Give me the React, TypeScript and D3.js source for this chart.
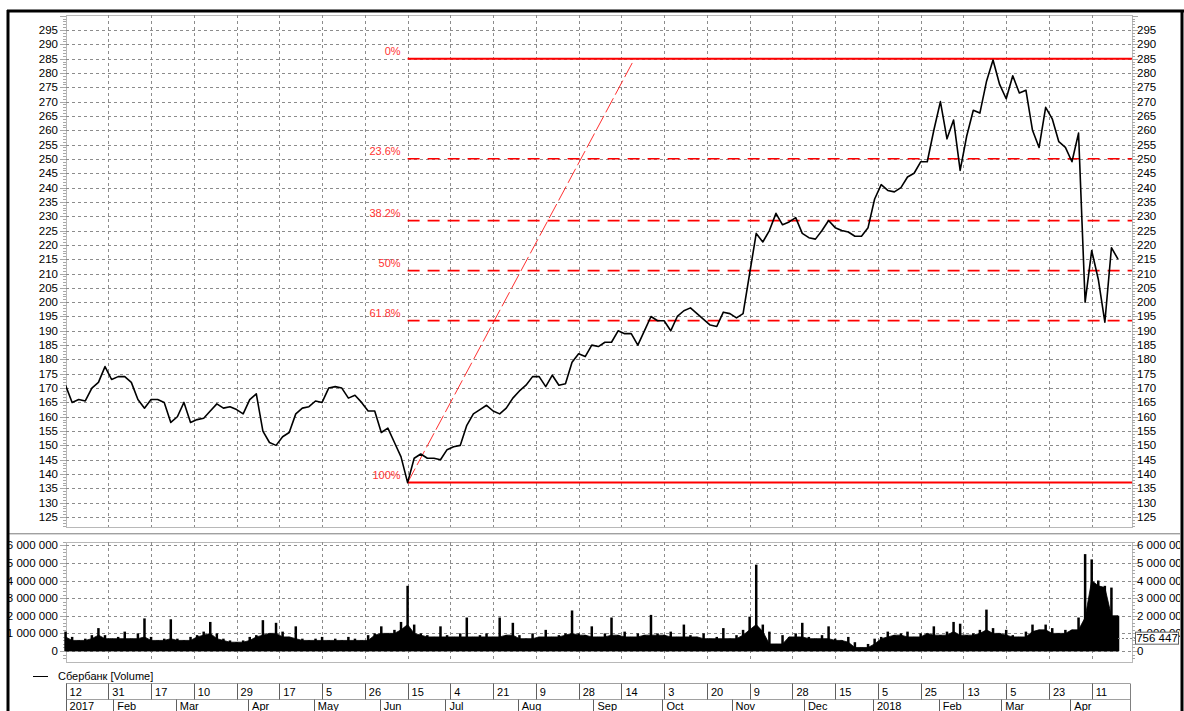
import React from 'react';
import * as d3 from 'd3';

// ---- data ----
const dayLabels = ['12','31','17','10','29','17','5','26','15','4','21','9','28','14','3','20','9','28','15','5','25','13','5','23','11'];
const monthLabels = ['2017','Feb','Mar','Apr','May','Jun','Jul','Aug','Sep','Oct','Nov','Dec','2018','Feb','Mar','Apr'];
const monthStarts = [0,15,34,56,76,96,116,138,161,182,203,225,246,266,285,306];
const TICK_EVERY = 13; // trading days between date ticks
const SAMPLE_STEP = 2; // trading days between samples

// close price, sampled every 2 trading days
const priceValues = [
  171,165,166,165.5,170,172,177.5,173,174,174,
  172,166,163,166,166,165,158,160,165,158,
  159,159.5,162,164.5,163,163.5,162.5,161,166,168,
  155,151,150,153,154.5,161,163,163.5,165.5,165,
  170,170.5,170,166.5,167.5,165,162,162,154.5,156,
  151,146,137,145.5,147,145.5,145.5,145,148.5,149.5,
  150,157,161,162.5,164,162,161,163,166.5,169,
  171,174,174,170.5,174.5,171,171.5,179,182,181,
  185,184.5,186,186,190,189,189,185,190,195,
  193.5,193.5,190,195,197,198,196,194,192,191.5,
  196.5,196,194.5,196,210,224,221,225,231,227,
  228,229.5,224,222.5,222,225,228.5,226,225,224.5,
  223,223,226,236,241,239,238.5,240,243.7,245,
  249,249,260,270,257,263.6,246,258,267,266,
  277,284.5,276,271,279,273,274,260,254,268,
  264,256,254,249,259,200,218,208,193,219,
  215
];

// volume in millions, sampled every 2 trading days
const volumeValues = [
  1.1,0.8,0.6,0.7,0.9,1.3,0.9,0.7,0.8,1.1,
  0.7,1.0,1.85,0.8,0.6,0.7,1.8,0.7,0.6,0.8,
  0.9,1.1,1.65,1.0,0.7,0.6,0.5,0.6,0.8,0.9,
  1.75,1.0,1.6,1.1,0.8,1.4,0.7,0.6,0.7,0.8,
  0.6,0.7,0.6,0.8,0.7,0.6,0.9,1.0,1.4,1.0,
  1.2,1.65,3.7,1.5,1.0,0.9,0.8,1.4,0.9,0.8,
  1.0,1.9,0.8,0.9,1.0,0.8,1.9,0.9,1.6,0.9,
  0.7,1.0,0.8,1.2,0.8,0.9,1.0,2.3,1.0,0.9,
  1.4,0.8,1.0,1.9,0.9,1.1,0.8,1.0,0.9,2.05,
  1.0,0.9,1.1,0.8,1.5,0.9,0.8,1.0,0.7,0.8,
  1.3,0.7,0.9,1.2,1.95,4.9,1.5,1.1,0.4,0.9,
  0.8,1.0,1.6,0.8,0.7,0.9,1.4,0.7,0.6,0.8,
  0.5,0.2,0.4,0.7,0.8,1.1,0.9,1.0,1.1,0.8,
  1.0,1.0,1.4,0.9,1.1,1.65,1.55,0.9,1.0,1.2,
  2.35,1.3,1.0,1.2,0.9,0.8,1.1,1.5,1.2,1.5,
  1.3,1.0,1.2,1.2,1.9,5.5,5.2,4.0,3.7,3.6,
  2.0
];
const lastVolume = 756447;

const fibLevels = [0, 23.6, 38.2, 50, 61.8, 100];
const fibHigh = 285;
const fibLow = 137;
const fibStartIndex = 104;
const fibDiagEndIndex = 173;
const legendLabel = 'Сбербанк [Volume]';

// ---- layout ----
const W = 1184, H = 711;
const PL = 66, PR = 1132;
const priceTop = 15, priceBottom = 527;
const volTop = 542, volBottom = 662;
const FONT = 'Liberation Sans, Arial, sans-serif';
const GRID = '#8c8c8c';

const x = d3.scaleLinear().domain([0, 312]).range([65.55, 1091.7]);
const yP = d3.scaleLinear().domain([125, 295]).range([517, 30]);
const yV = d3.scaleLinear().domain([0, 6e6]).range([651, 545.3]);

const fmtVol = (v: number) => d3.format(',')(v).replace(/,/g, ' ');

export default function App() {
  const tickIdx = dayLabels.map((_, k) => k * TICK_EVERY);
  const priceTicks = d3.range(125, 296, 5);
  const priceMinor = d3.range(122, 301, 1);
  const volTicks = d3.range(0, 6e6 + 1, 1e6);
  const volMinor = d3.range(-0.6e6, 6.6e6, 0.2e6);

  const line = d3.line<number>()
    .x((_, i) => x(i * SAMPLE_STEP))
    .y((d) => yP(d));

  // dense lower mass of the volume histogram: local floor of neighbouring samples
  const volFloor = volumeValues.map((v, i) =>
    Math.min(v, volumeValues[Math.max(0, i - 1)], volumeValues[Math.min(volumeValues.length - 1, i + 1)]));
  const volArea = d3.area<number>()
    .x((_, i) => x(i * SAMPLE_STEP))
    .y0(yV(0))
    .y1((d) => yV(d * 1e6));

  const fibY = (lvl: number) => yP(fibHigh - (fibHigh - fibLow) * lvl / 100);
  const fx0 = x(fibStartIndex);
  const lastX = x((volumeValues.length - 1) * SAMPLE_STEP);

  return (
    <svg width={W} height={H} style={{ position: 'absolute', left: 0, top: 0, background: '#fff' }}
      fontFamily={FONT}>
      <defs>
        <clipPath id="frameClip"><rect x={9} y={12} width={1171} height={H} /></clipPath>
        <clipPath id="priceClip"><rect x={PL} y={priceTop} width={PR - PL} height={priceBottom - priceTop} /></clipPath>
      </defs>
      <rect x={0} y={0} width={W} height={H} fill="#fff" />

      <g clipPath="url(#frameClip)">
        {/* price panel */}
        <rect x={PL + 0.5} y={priceTop + 0.5} width={PR - PL} height={priceBottom - priceTop} fill="none" stroke="#b8b8b8" />
        {priceTicks.map((v) => (
          <line key={'hg' + v} x1={PL} x2={PR} y1={Math.round(yP(v)) + 0.5} y2={Math.round(yP(v)) + 0.5}
            stroke={GRID} strokeDasharray="3,3" />
        ))}
        {tickIdx.slice(1).map((t) => (
          <line key={'vg' + t} x1={Math.round(x(t)) + 0.5} x2={Math.round(x(t)) + 0.5} y1={priceTop} y2={priceBottom}
            stroke={GRID} strokeDasharray="3,3" />
        ))}
        {priceMinor.map((v) => {
          const yy = Math.round(yP(v)) + 0.5;
          if (yy < priceTop || yy > priceBottom) return null;
          const major = v % 5 === 0;
          return (
            <g key={'pm' + v}>
              <line x1={major ? PL - 6 : PL - 3} x2={PL} y1={yy} y2={yy} stroke="#a8a8a8" />
              <line x1={PR} x2={major ? PR + 6 : PR + 3} y1={yy} y2={yy} stroke="#a8a8a8" />
            </g>
          );
        })}
        {priceTicks.map((v) => (
          <g key={'pl' + v} fontSize={11.5} fill="#000">
            <text x={58} y={yP(v) + 4} textAnchor="end">{v}</text>
            <text x={1137} y={yP(v) + 4}>{v}</text>
          </g>
        ))}

        {/* fibonacci */}
        <g clipPath="url(#priceClip)">
          <line x1={fx0} y1={fibY(100)} x2={x(fibDiagEndIndex)} y2={fibY(0)} stroke="#ff3030" strokeWidth={1}
            strokeDasharray="16,4" />
          {fibLevels.map((l) => {
            const solid = l === 0 || l === 100;
            return (
              <line key={'fl' + l} x1={fx0} x2={PR} y1={fibY(l)} y2={fibY(l)} stroke="#ff0000"
                strokeWidth={solid ? 2 : 1.6} strokeDasharray={solid ? undefined : '12,8'} />
            );
          })}
          <path d={line(priceValues) || ''} fill="none" stroke="#000" strokeWidth={1.6} strokeLinejoin="round" />
        </g>
        {fibLevels.map((l) => (
          <text key={'ft' + l} x={fx0 - 7} y={fibY(l) - 4} textAnchor="end" fontSize={11} fill="#ff3333">
            {l + '%'}
          </text>
        ))}

        {/* splitter */}
        <line x1={9} x2={1181} y1={533.5} y2={533.5} stroke="#a0a0a0" strokeWidth={1} />
        <line x1={9} x2={1181} y1={534.5} y2={534.5} stroke="#d8d8d8" strokeWidth={1} />

        {/* volume panel */}
        <rect x={PL + 0.5} y={volTop + 0.5} width={PR - PL} height={volBottom - volTop} fill="none" stroke="#b8b8b8" />
        {volTicks.map((v) => (
          <line key={'vh' + v} x1={PL} x2={PR} y1={Math.round(yV(v)) + 0.5} y2={Math.round(yV(v)) + 0.5}
            stroke={GRID} strokeDasharray="3,3" />
        ))}
        {tickIdx.slice(1).map((t) => (
          <line key={'vv' + t} x1={Math.round(x(t)) + 0.5} x2={Math.round(x(t)) + 0.5} y1={volTop} y2={volBottom}
            stroke={GRID} strokeDasharray="3,3" />
        ))}
        {volMinor.map((v, i) => {
          const yy = Math.round(yV(v)) + 0.5;
          if (yy < volTop || yy > volBottom) return null;
          const major = i % 5 === 3;
          return (
            <g key={'vm' + i}>
              <line x1={major ? PL - 6 : PL - 3} x2={PL} y1={yy} y2={yy} stroke="#a8a8a8" />
              <line x1={PR} x2={major ? PR + 6 : PR + 3} y1={yy} y2={yy} stroke="#a8a8a8" />
            </g>
          );
        })}
        <path d={volArea(volFloor) || ''} fill="#000" stroke="#000" strokeWidth={0.8} />
        {volumeValues.map((v, i) => (
          <rect key={'vb' + i} x={x(i * SAMPLE_STEP) - 1.25} width={2.5}
            y={yV(v * 1e6)} height={yV(0) - yV(v * 1e6)} fill="#000" />
        ))}
        {volTicks.map((v) => (
          <g key={'vl' + v} fontSize={11.5} fill="#000">
            <text x={58} y={yV(v) + 4} textAnchor="end">{fmtVol(v)}</text>
            <text x={1137} y={yV(v) + 4}>{fmtVol(v)}</text>
          </g>
        ))}
        <line x1={lastX} x2={1135} y1={Math.round(yV(lastVolume)) + 0.5} y2={Math.round(yV(lastVolume)) + 0.5}
          stroke="#808080" strokeDasharray="2,2" />
        <rect x={1135.5} y={yV(lastVolume) - 5.5} width={43} height={12} fill="#fff" stroke="#606060" />
        <text x={1157} y={yV(lastVolume) + 4.5} textAnchor="middle" fontSize={11.5} fill="#000">
          {fmtVol(lastVolume)}
        </text>

        {/* legend */}
        <line x1={33} x2={48} y1={676.5} y2={676.5} stroke="#000" />
        <text x={58} y={680} fontSize={11} fill="#000">{legendLabel}</text>

        {/* date axis */}
        <line x1={PL} x2={1130} y1={683.5} y2={683.5} stroke="#a0a0a0" />
        <line x1={PL} x2={1130} y1={699.5} y2={699.5} stroke="#a0a0a0" />
        <line x1={1130.5} x2={1130.5} y1={683.5} y2={711} stroke="#808080" />
        {tickIdx.map((t, k) => (
          <g key={'dt' + t}>
            <line x1={Math.round(x(t)) + 0.5} x2={Math.round(x(t)) + 0.5} y1={683.5} y2={699.5} stroke="#606060" />
            <text x={x(t) + 4} y={696} fontSize={11} fill="#000">{dayLabels[k]}</text>
          </g>
        ))}
        {monthStarts.map((m, k) => {
          const xx = k === 0 ? x(0) : x(m - 0.5);
          return (
            <g key={'mt' + k}>
              <line x1={Math.round(xx) + 0.5} x2={Math.round(xx) + 0.5} y1={699.5} y2={711} stroke="#606060" />
              <text x={xx + 4} y={710} fontSize={11} fill="#000">{monthLabels[k]}</text>
            </g>
          );
        })}
      </g>

      {/* outer frame */}
      <line x1={7} x2={1184} y1={11} y2={11} stroke="#000" strokeWidth={3} />
      <line x1={8} x2={8} y1={10} y2={711} stroke="#000" strokeWidth={3} />
      <line x1={1182} x2={1182} y1={10} y2={711} stroke="#000" strokeWidth={3} />
    </svg>
  );
}
